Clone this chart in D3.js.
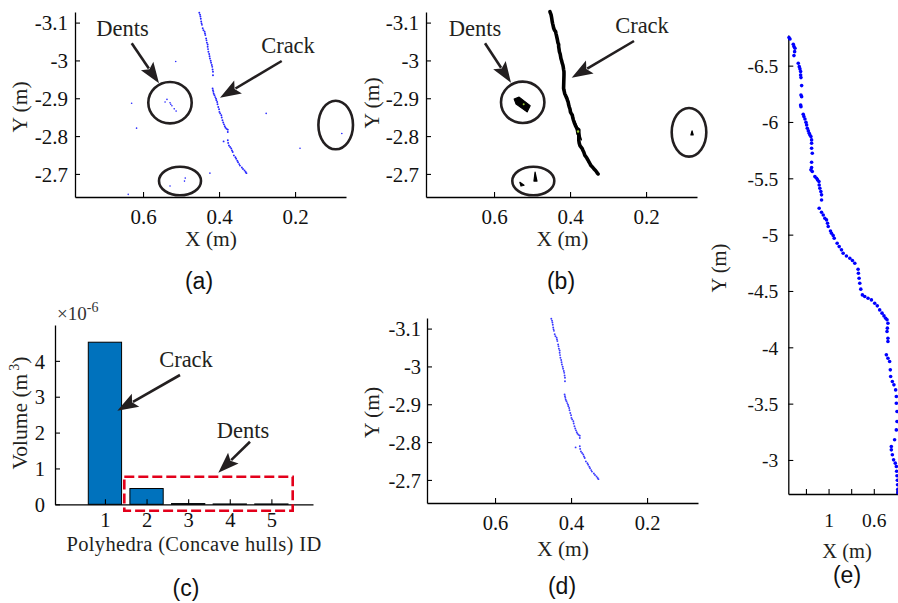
<!DOCTYPE html>
<html>
<head>
<meta charset="utf-8">
<script src="https://cdn.jsdelivr.net/npm/d3@7"></script>
<style>
  body { margin: 0; background: #fff; }
</style>
</head>
<body>
<svg id="fig" width="898" height="603"></svg>
<script>
// ---------- data ----------
// crack points in plan view (X, Y in metres)
const crackPoints = [
  [0.452,-3.126],[0.450,-3.121],[0.449,-3.116],[0.448,-3.110],[0.447,-3.103],[0.446,-3.098],[0.445,-3.094],
  [0.443,-3.085],[0.441,-3.080],[0.438,-3.076],[0.437,-3.071],[0.436,-3.067],[0.434,-3.058],[0.433,-3.053],
  [0.432,-3.047],[0.430,-3.042],[0.430,-3.036],[0.429,-3.030],[0.428,-3.023],[0.426,-3.017],[0.425,-3.011],
  [0.424,-3.005],[0.422,-2.999],[0.421,-2.994],[0.419,-2.988],[0.418,-2.983],[0.417,-2.976],[0.416,-2.970],
  [0.416,-2.961],
  [0.417,-2.926],[0.416,-2.921],[0.415,-2.917],[0.414,-2.912],[0.412,-2.908],[0.410,-2.903],[0.408,-2.899],
  [0.407,-2.895],[0.405,-2.890],[0.404,-2.884],[0.402,-2.877],[0.400,-2.871],[0.399,-2.864],[0.397,-2.860],
  [0.394,-2.855],[0.393,-2.849],[0.391,-2.842],[0.389,-2.836],[0.387,-2.831],[0.385,-2.826],[0.383,-2.822],
  [0.380,-2.819],[0.377,-2.817],[0.377,-2.811],
  [0.377,-2.789],[0.376,-2.782],[0.374,-2.775],[0.371,-2.771],[0.368,-2.767],[0.366,-2.762],[0.364,-2.758],
  [0.361,-2.749],[0.357,-2.744],[0.355,-2.740],[0.352,-2.735],[0.350,-2.731],[0.347,-2.726],[0.345,-2.722],
  [0.340,-2.717],[0.337,-2.713],[0.333,-2.709],[0.330,-2.705],[0.328,-2.702]
];
const crackStray = [[0.388,-2.786]];

// scattered points of the raw difference cloud
const noisePoints = [
  [0.630,-2.887],[0.617,-2.821],[0.514,-2.997],[0.424,-2.702],[0.639,-2.646],
  [0.276,-2.860],[0.077,-2.807],[0.187,-2.768]
];
const dentPoints = [
  [0.542,-2.890],[0.537,-2.897],[0.529,-2.888],[0.524,-2.880],[0.518,-2.872],[0.513,-2.866],
  [0.527,-2.884],[0.529,-2.668],[0.489,-2.689],[0.491,-2.681]
];

// concave hulls of the detected regions
const dentHull1 = [[0.547,-2.898],[0.534,-2.903],[0.505,-2.880],[0.513,-2.864],[0.542,-2.885]];
const dentHull2 = [[0.492,-2.705],[0.487,-2.681],[0.495,-2.681]];
const dentHull3 = [[0.532,-2.678],[0.521,-2.670],[0.529,-2.668]];
const dentHull4 = [[0.079,-2.814],[0.076,-2.803],[0.082,-2.803]];
const crackBulge = [[0.388,-2.840],[0.378,-2.818],[0.370,-2.790],[0.382,-2.805]];

// hull volumes (×1e-6 m³)
const hullIds = [1, 2, 3, 4, 5];
const hullVolumes = [4.52, 0.44, 0.02, 0.01, 0.01];

// long crack trace
const tracePoints = [
  [1.350,-6.749],[1.341,-6.737],[1.312,-6.690],[1.306,-6.669],[1.297,-6.654],[1.300,-6.624],[1.306,-6.589],
  [1.268,-6.521],[1.259,-6.491],[1.253,-6.471],[1.247,-6.447],[1.247,-6.417],[1.244,-6.394],[1.238,-6.323],
  [1.244,-6.240],[1.238,-6.225],[1.247,-6.151],[1.244,-6.136],[1.224,-6.068],[1.218,-6.048],[1.209,-6.027],
  [1.200,-5.998],[1.194,-5.974],[1.188,-5.944],[1.179,-5.921],[1.171,-5.900],[1.165,-5.885],[1.156,-5.870],
  [1.150,-5.841],[1.150,-5.811],[1.150,-5.767],[1.144,-5.722],[1.150,-5.643],[1.150,-5.595],[1.156,-5.575],
  [1.144,-5.560],[1.121,-5.515],[1.106,-5.501],[1.097,-5.486],[1.085,-5.471],[1.083,-5.441],[1.077,-5.412],
  [1.068,-5.382],[1.062,-5.353],[1.062,-5.308],[1.083,-5.234],[1.062,-5.199],[1.047,-5.175],[1.033,-5.146],
  [1.018,-5.131],[1.009,-5.101],[1.003,-5.072],[0.983,-5.033],[0.974,-5.013],[0.959,-4.992],[0.950,-4.968],
  [0.924,-4.924],[0.906,-4.894],[0.886,-4.865],[0.871,-4.835],[0.842,-4.811],[0.812,-4.791],[0.789,-4.770],
  [0.768,-4.746],[0.739,-4.693],[0.736,-4.658],[0.730,-4.613],[0.724,-4.569],[0.715,-4.516],[0.701,-4.465],
  [0.680,-4.451],[0.651,-4.436],[0.621,-4.421],[0.592,-4.391],[0.569,-4.368],[0.548,-4.332],[0.527,-4.303],
  [0.510,-4.279],[0.495,-4.258],[0.483,-4.244],[0.475,-4.214],[0.480,-4.170],[0.483,-4.140],[0.475,-4.081],
  [0.475,-4.051],[0.489,-3.933],[0.475,-3.903],[0.460,-3.874],[0.454,-3.800],[0.451,-3.741],[0.436,-3.696],
  [0.422,-3.667],[0.407,-3.622],[0.401,-3.563],[0.401,-3.504],[0.395,-3.430],[0.395,-3.341],[0.401,-3.267],
  [0.416,-3.179],[0.445,-3.119],[0.445,-3.090],[0.436,-3.046],[0.425,-3.001],[0.410,-2.972],[0.401,-2.942],
  [0.398,-2.900],[0.395,-2.860],[0.392,-2.820],[0.390,-2.780],[0.388,-2.740],[0.387,-2.710]
];

// tick values
const xTicksPlan = [0.6, 0.4, 0.2];
const yTicksPlan = [-3.1, -3, -2.9, -2.8, -2.7];
const yTicksVolume = [0, 1, 2, 3, 4];
const xTicksTrace = [1.2, 1, 0.8, 0.6, 0.4];
const xLabelsTrace = [1, 0.6];
const yTicksTrace = [-6.5, -6, -5.5, -5, -4.5, -4, -3.5, -3];

// ---------- drawing ----------
const svg = d3.select("#fig");
const SERIF = "'Liberation Serif','Times New Roman',serif";
const SANS = "'Liberation Sans',Arial,sans-serif";
const INK = "#231f20";
const fmt = v => String(v);

function styleAxis(g, fs) {
  g.select(".domain").attr("stroke", "#000").attr("stroke-width", 1.3);
  g.selectAll(".tick line").attr("stroke", "#000").attr("stroke-width", 1.1);
  g.selectAll("text").attr("font-family", SERIF).attr("font-size", fs).attr("fill", "#111");
}

// axes in MATLAB style: left + bottom, inward ticks
function drawAxes(x, y, o) {
  const bottom = Math.max(...y.range());
  const xa = svg.append("g")
    .attr("transform", `translate(0,${bottom})`)
    .call(d3.axisBottom(x).tickValues(o.xTicks).tickSizeInner(-5).tickSizeOuter(0)
      .tickFormat(o.xFmt || fmt));
  styleAxis(xa, o.fs);
  xa.selectAll("text").attr("y", o.xLabelDy).attr("dy", 0);
  const ya = svg.append("g")
    .attr("transform", `translate(${x.range()[0]},0)`)
    .call(d3.axisLeft(y).tickValues(o.yTicks).tickSizeInner(-5).tickSizeOuter(0)
      .tickPadding(o.yPad).tickFormat(fmt));
  styleAxis(ya, o.fs);
  ya.selectAll("text").attr("dy", "0.35em");
  return { xa, ya };
}

function label(txt, x, y, fs, opts = {}) {
  const t = svg.append("text")
    .attr("x", x).attr("y", y)
    .attr("text-anchor", opts.anchor || "middle")
    .attr("font-family", opts.family || SERIF)
    .attr("font-size", fs)
    .attr("fill", opts.fill || INK)
    .text(txt);
  if (opts.rotate) t.attr("transform", `rotate(-90,${x},${y})`);
  return t;
}

function arrow(x1, y1, x2, y2) {
  const dx = x2 - x1, dy = y2 - y1, L = Math.hypot(dx, dy);
  const ux = dx / L, uy = dy / L, hl = 21, hw = 7.5;
  const bx = x2 - ux * hl, by = y2 - uy * hl;
  svg.append("line").attr("x1", x1).attr("y1", y1).attr("x2", bx + ux * 3).attr("y2", by + uy * 3)
    .attr("stroke", INK).attr("stroke-width", 2.6);
  svg.append("path")
    .attr("d", `M${x2},${y2}L${bx - uy * hw},${by + ux * hw}L${bx + ux * 4},${by + uy * 4}L${bx + uy * hw},${by - ux * hw}Z`)
    .attr("fill", INK);
}

function ring(cx, cy, rx, ry) {
  svg.append("ellipse").attr("cx", cx).attr("cy", cy).attr("rx", rx).attr("ry", ry)
    .attr("fill", "none").attr("stroke", INK).attr("stroke-width", 2.6);
}

const planX = [0.779, 0.066];
const planY = [-3.128, -2.639];

// ---- (a) raw difference points ----
const xA = d3.scaleLinear().domain(planX).range([75, 346]);
const yA = d3.scaleLinear().domain(planY).range([12, 197]);
drawAxes(xA, yA, { xTicks: xTicksPlan, yTicks: yTicksPlan, fs: 21, xLabelDy: 27, yPad: 7 });
const dotsA = svg.append("g").attr("fill", "#2424ff");
dotsA.selectAll("circle.c").data(crackPoints.concat(crackStray)).join("circle")
  .attr("cx", d => xA(d[0])).attr("cy", d => yA(d[1])).attr("r", 0.95);
dotsA.selectAll("circle.n").data(noisePoints.concat(dentPoints)).join("circle")
  .attr("class", "n").attr("cx", d => xA(d[0])).attr("cy", d => yA(d[1])).attr("r", 0.8);
label("X (m)", 211, 246, 21.5);
label("Y (m)", 27, 107, 21.5, { rotate: true });
ring(170, 102.7, 21.7, 20.7);
ring(180, 181, 21, 14.3);
ring(335.7, 125, 17.3, 24.3);
label("Dents", 122.5, 36, 22.5);
arrow(131.7, 43.3, 159, 83.3);
label("Crack", 288, 53, 22.5);
arrow(281.7, 61, 220, 97.7);
label("(a)", 199, 289, 23, { family: SANS, fill: "#111" });

// ---- (b) concave hulls ----
const xB = d3.scaleLinear().domain(planX).range([426, 697]);
const yB = d3.scaleLinear().domain(planY).range([12, 197]);
drawAxes(xB, yB, { xTicks: xTicksPlan, yTicks: yTicksPlan, fs: 21, xLabelDy: 27, yPad: 7 });
const hullLine = d3.line().x(d => xB(d[0])).y(d => yB(d[1]));
svg.append("path").attr("d", hullLine([[0.453, -3.129]].concat(crackPoints, [[0.326, -2.700]])))
  .attr("fill", "none").attr("stroke", "#000").attr("stroke-width", 3.6)
  .attr("stroke-linejoin", "round").attr("stroke-linecap", "round");
[crackBulge, dentHull1, dentHull2, dentHull3, dentHull4].forEach(h => {
  svg.append("path").attr("d", hullLine(h) + "Z").attr("fill", "#000")
    .attr("stroke", "#000").attr("stroke-width", 1.2).attr("stroke-linejoin", "round");
});
svg.append("circle").attr("cx", xB(0.379)).attr("cy", yB(-2.812)).attr("r", 1.2).attr("fill", "#9acd32");
svg.append("circle").attr("cx", xB(0.522)).attr("cy", yB(-2.884)).attr("r", 1).attr("fill", "#9acd32");
label("X (m)", 562.5, 246, 21.5);
label("Y (m)", 379, 103, 21.5, { rotate: true });
ring(522.7, 102.3, 21.7, 20.7);
ring(533.3, 181, 21, 14.3);
ring(689, 132.3, 17.3, 24.3);
label("Dents", 475, 36, 22.5);
arrow(485, 43.3, 511, 82.7);
label("Crack", 642, 33, 22.5);
arrow(634, 41, 571.7, 77.7);
label("(b)", 561, 289, 23, { family: SANS, fill: "#111" });

// ---- (c) hull volumes ----
const xC = d3.scaleLinear().domain([-0.2, 6.0]).range([55, 313]);
const yC = d3.scaleLinear().domain([0, 5]).range([504.3, 325]);
svg.append("g").selectAll("rect").data(hullIds).join("rect")
  .attr("x", (d) => xC(d - 0.4)).attr("width", xC(0.8) - xC(0))
  .attr("y", (d, i) => yC(hullVolumes[i])).attr("height", (d, i) => yC(0) - yC(hullVolumes[i]))
  .attr("fill", "#0072bd").attr("stroke", "#000").attr("stroke-width", 1);
drawAxes(xC, yC, { xTicks: hullIds, yTicks: yTicksVolume, fs: 20.5, xLabelDy: 23, yPad: 10 });
svg.append("rect").attr("x", 124.3).attr("y", 476.7).attr("width", 168.4).attr("height", 34)
  .attr("fill", "none").attr("stroke", "#e3001b").attr("stroke-width", 2.6).attr("stroke-dasharray", "10,4");
const t10 = label("", 57, 320, 19, { anchor: "start", fill: "#333" });
t10.append("tspan").text("\u00d710");
t10.append("tspan").attr("font-size", 14).attr("dy", -8).text("-6");
label("Polyhedra (Concave hulls) ID", 194, 551, 20.5).attr("letter-spacing", 0.35);
const vt = label("", 27, 413, 21.5, { rotate: true });
vt.append("tspan").text("Volume (m");
vt.append("tspan").attr("font-size", 14).attr("dy", -8).attr("dx", 3).text("3");
vt.append("tspan").attr("dy", 8).text(")");
label("Crack", 186, 367, 22.5);
arrow(180, 375, 117.3, 410.7);
label("Dents", 243, 438, 22.5);
arrow(250, 441.7, 218.3, 472.7);
label("(c)", 186, 596, 23, { family: SANS, fill: "#111" });

// ---- (d) extracted crack points ----
const xD = d3.scaleLinear().domain(planX).range([427, 698]);
const yD = d3.scaleLinear().domain(planY).range([318, 503]);
drawAxes(xD, yD, { xTicks: xTicksPlan, yTicks: yTicksPlan, fs: 20.5, xLabelDy: 27, yPad: 6 });
svg.append("g").attr("fill", "#3a3aff").selectAll("circle")
  .data(crackPoints.concat(crackStray)).join("circle")
  .attr("cx", d => xD(d[0])).attr("cy", d => yD(d[1])).attr("r", 0.95);
label("X (m)", 563, 556, 21.5);
label("Y (m)", 379, 412.5, 21.5, { rotate: true });
label("(d)", 562, 594, 23, { family: SANS, fill: "#111" });

// ---- (e) long crack trace ----
const xE = d3.scaleLinear().domain([1.356, 0.386]).range([788.3, 898]);
const yE = d3.scaleLinear().domain([-6.772, -2.698]).range([35, 494]);
drawAxes(xE, yE, {
  xTicks: xTicksTrace, yTicks: yTicksTrace, fs: 19.5, xLabelDy: 33, yPad: 10,
  xFmt: v => xLabelsTrace.includes(v) ? String(v) : ""
});
svg.append("g").attr("fill", "#0000ff").selectAll("circle")
  .data(tracePoints).join("circle")
  .attr("cx", d => xE(d[0])).attr("cy", d => yE(d[1])).attr("r", 1.8);
label("X (m)", 847, 558, 20.5);
label("Y (m)", 726, 268, 20.5, { rotate: true });
label("(e)", 847, 583, 23, { family: SANS, fill: "#111" });
</script>
</body>
</html>
